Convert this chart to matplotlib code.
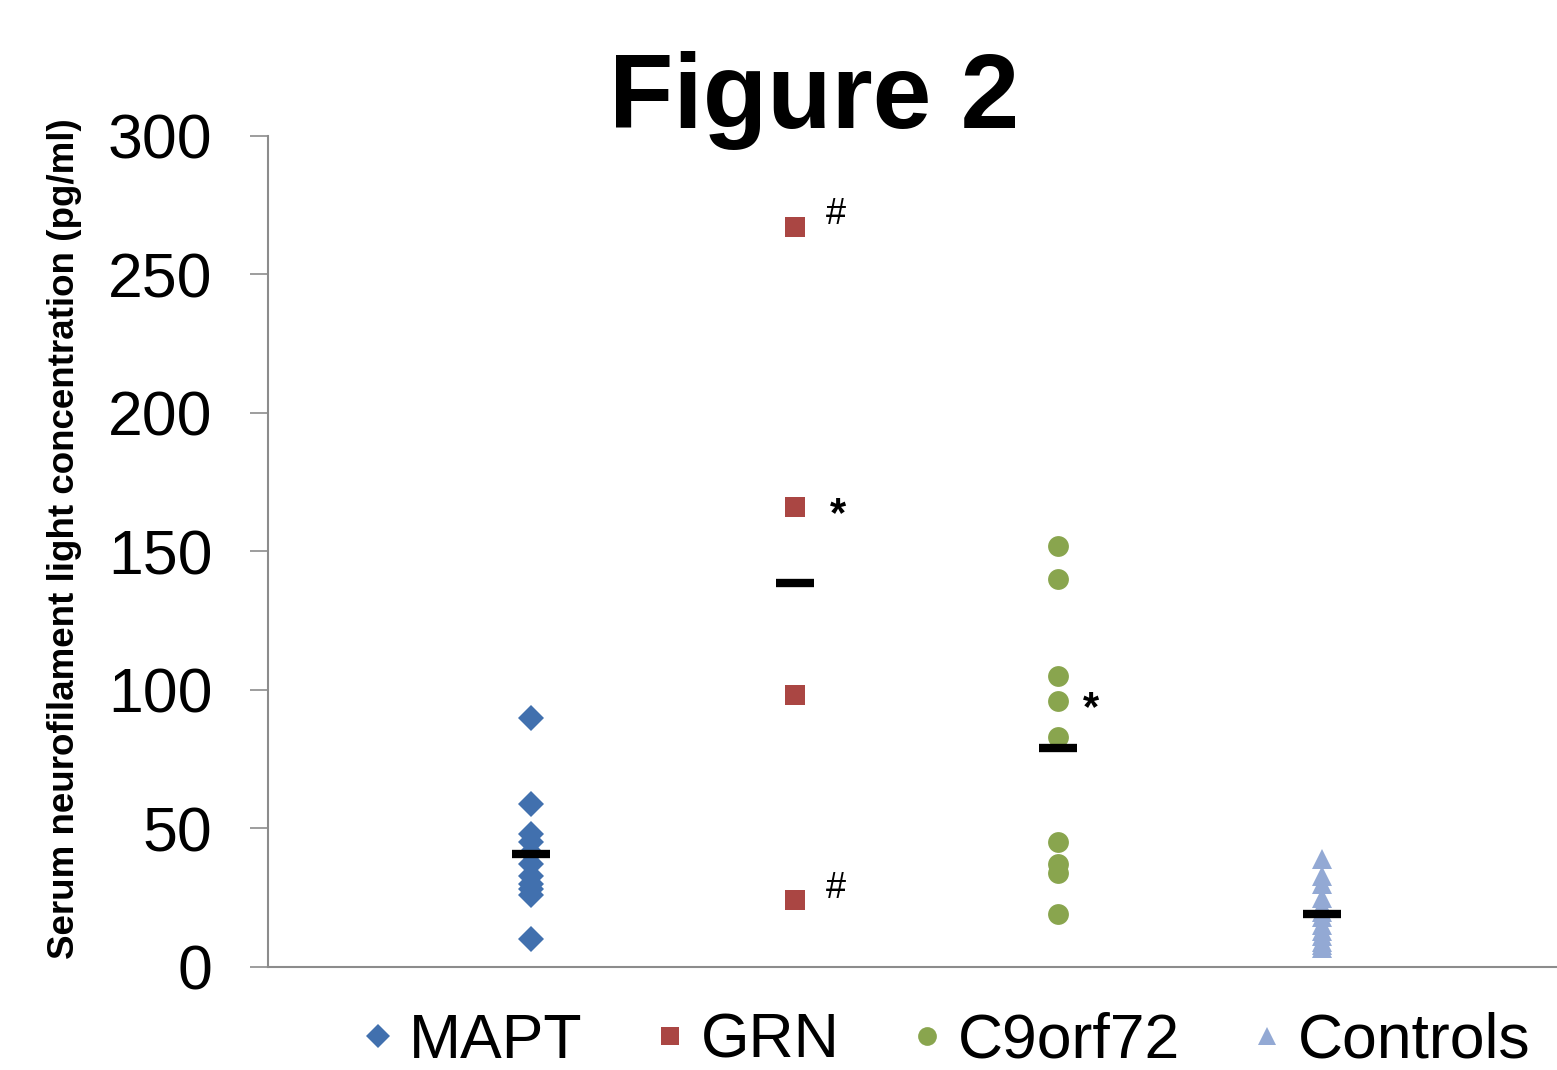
import matplotlib
matplotlib.use("Agg")
import matplotlib.pyplot as plt
import numpy as np

plt.rcParams["font.family"] = ["Liberation Sans", "DejaVu Sans"]

groups = ["MAPT", "GRN", "C9orf72", "Controls"]
mapt = [90, 59, 48, 45, 41, 37, 33, 30, 28, 26, 10]
grn = [267, 166, 98, 24]
c9orf72 = [152, 140, 105, 96, 83, 45, 37, 34, 19]
controls = [39, 33, 30, 25, 22, 20, 18, 15, 13, 11, 9, 8, 7]
# significance marks: (group index, value, symbol)
marks = [(1, 267, "#"), (1, 166, "*"), (1, 24, "#"), (2, 96, "*")]

series = [mapt, grn, c9orf72, controls]
colors = ["#4170AE", "#AA4643", "#89A54E", "#93A9D4"]
markers = ["D", "s", "o", "^"]
msizes = [13.5, 15, 15, 15]

fig = plt.figure(figsize=(15.57, 10.70), dpi=100)
ax = fig.add_axes([0.1721, 0.0963, 0.846, 0.7767])

for i, (vals, c, m, ms, name) in enumerate(zip(series, colors, markers, msizes, groups)):
    x = np.full(len(vals), i + 1)
    ax.plot(x, vals, linestyle="none", marker=m, ms=ms, color=c,
            markeredgewidth=0, label=name)
    mu = np.mean(vals)
    ax.hlines(mu, i + 1 - 0.072, i + 1 + 0.072, color="black", lw=6, zorder=5)

for gi, v, sym in marks:
    if sym == "#":
        ax.text(gi + 1 + 0.155, v + 4.5, sym, fontsize=26, ha="center", va="center")
    else:
        dx = 0.163 if gi == 1 else 0.125
        ax.text(gi + 1 + dx, v - 3, sym, fontsize=30, fontweight="bold",
                ha="center", va="center")

ax.set_xlim(0, 5)
ax.set_ylim(0, 300)
ax.set_yticks(range(0, 301, 50))
ax.set_xticks([])
for s in ["top", "right"]:
    ax.spines[s].set_visible(False)
ax.spines["left"].set_color("#8c8c8c")
ax.spines["bottom"].set_color("#8c8c8c")
ax.spines["left"].set_linewidth(1.5)
ax.spines["bottom"].set_linewidth(1.5)
ax.tick_params(axis="y", length=13, width=1.2, color="#8c8c8c",
               labelsize=45, pad=27)
ax.set_ylabel("Serum neurofilament light concentration (pg/ml)",
              fontsize=26.5, fontweight="bold")
ax.yaxis.set_label_coords(-0.141, 0.516)

fig.suptitle("Figure 2", fontsize=76, fontweight="bold", x=0.523, y=0.952)

fig.legend(loc="center", bbox_to_anchor=(0.607, 0.027), ncol=4, frameon=False,
           fontsize=45, handletextpad=0.2, columnspacing=1.09, markerscale=0.9,
           handlelength=0.6, borderpad=0.1)

fig.savefig("out.png", dpi=100)
